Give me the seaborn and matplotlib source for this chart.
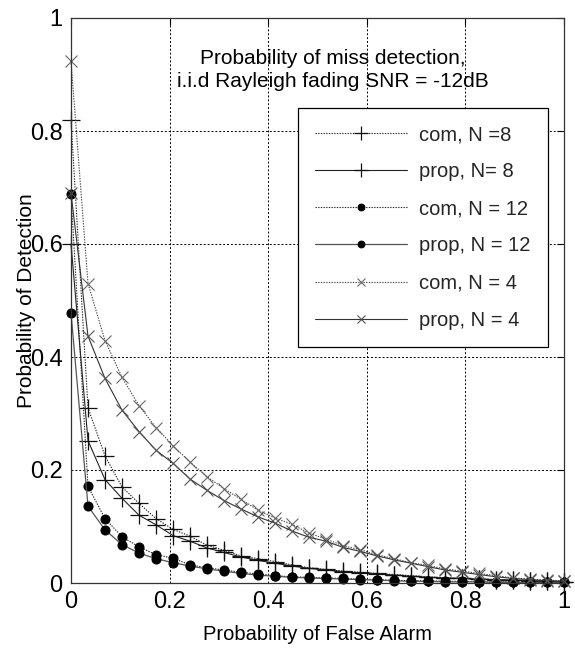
import numpy as np
import pandas as pd
import matplotlib
matplotlib.use("Agg")
import matplotlib.pyplot as plt
import seaborn as sns

# ---------------- data ----------------
pfa = [i / 29 for i in range(30)]

com_n8 = [0.82, 0.31, 0.225, 0.170, 0.141, 0.114, 0.095, 0.083, 0.067, 0.058,
          0.048, 0.043, 0.038, 0.032, 0.027, 0.024, 0.021, 0.019, 0.017, 0.015,
          0.013, 0.011, 0.009, 0.008, 0.007, 0.006, 0.005, 0.004, 0.003, 0.002]
prop_n8 = [0.60, 0.252, 0.183, 0.150, 0.120, 0.103, 0.084, 0.074, 0.062, 0.054,
           0.046, 0.040, 0.035, 0.030, 0.026, 0.023, 0.020, 0.018, 0.016, 0.014,
           0.012, 0.010, 0.009, 0.008, 0.007, 0.006, 0.005, 0.004, 0.003, 0.002]
com_n12 = [0.688, 0.171, 0.114, 0.082, 0.064, 0.050, 0.044, 0.032, 0.027, 0.023,
           0.019, 0.016, 0.013, 0.011, 0.010, 0.009, 0.008, 0.007, 0.006, 0.005,
           0.004, 0.004, 0.003, 0.003, 0.002, 0.002, 0.002, 0.001, 0.001, 0.001]
prop_n12 = [0.478, 0.136, 0.094, 0.068, 0.053, 0.043, 0.036, 0.030, 0.025, 0.021,
            0.017, 0.014, 0.012, 0.010, 0.009, 0.008, 0.007, 0.006, 0.005, 0.004,
            0.003, 0.003, 0.002, 0.002, 0.002, 0.001, 0.001, 0.001, 0.001, 0.001]
com_n4 = [0.924, 0.530, 0.429, 0.364, 0.314, 0.275, 0.243, 0.214, 0.188, 0.167,
          0.148, 0.129, 0.115, 0.104, 0.088, 0.078, 0.066, 0.059, 0.050, 0.043,
          0.036, 0.031, 0.025, 0.021, 0.017, 0.013, 0.009, 0.007, 0.005, 0.004]
prop_n4 = [0.690, 0.437, 0.362, 0.306, 0.268, 0.235, 0.212, 0.184, 0.164, 0.146,
           0.131, 0.117, 0.106, 0.092, 0.081, 0.074, 0.063, 0.056, 0.048, 0.041,
           0.035, 0.029, 0.023, 0.019, 0.015, 0.011, 0.008, 0.006, 0.004, 0.003]

labels = ["com, N =8", "prop, N= 8", "com, N = 12", "prop, N = 12",
          "com, N = 4", "prop, N = 4"]
tick_vals = [0, 0.2, 0.4, 0.6, 0.8, 1]
tick_labels = ["0", "0.2", "0.4", "0.6", "0.8", "1"]

title_text = "Probability of miss detection,\ni.i.d Rayleigh fading SNR = -12dB"
xlabel = "Probability of False Alarm"
ylabel = "Probability of Detection"

# ---------------- style ----------------
sns.set_theme(style="white")
plt.rcParams["font.family"] = ["Liberation Sans", "DejaVu Sans"]

fig = plt.figure(figsize=(5.75, 6.49), dpi=100)
ax = fig.add_axes([71 / 575, 66 / 649, 493 / 575, 565 / 649])

series = [com_n8, prop_n8, com_n12, prop_n12, com_n4, prop_n4]
dotted = (0, (1.2, 1.2))
styles = [
    dict(marker="+", markersize=13, linestyle=dotted, color="#222222",
         linewidth=0.8, mec="#111111", mew=0.9),
    dict(marker="+", markersize=13, linestyle="-", color="#222222",
         linewidth=0.8, mec="#111111", mew=0.9),
    dict(marker="o", markersize=6.5, linestyle=dotted, color="#222222",
         linewidth=0.8, mfc="black", mec="black"),
    dict(marker="o", markersize=6.5, linestyle="-", color="#555555",
         linewidth=0.9, mfc="black", mec="black"),
    dict(marker="x", markersize=8, linestyle=dotted, color="#444444",
         linewidth=0.8, mec="#666666", mew=0.8),
    dict(marker="x", markersize=8, linestyle="-", color="#333333",
         linewidth=0.8, mec="#555555", mew=0.8),
]

for vals, lab, st in zip(series, labels, styles):
    sns.lineplot(x=pfa, y=vals, ax=ax, label=lab, sort=False, clip_on=False,
                 **st)

ax.set_xlim(0, 1)
ax.set_ylim(0, 1)
ax.set_xticks(tick_vals)
ax.set_xticklabels(tick_labels)
ax.set_yticks(tick_vals)
ax.set_yticklabels(tick_labels)
ax.tick_params(axis="both", direction="in", length=5, width=0.8,
               labelsize=17, colors="black", pad=6,
               top=True, right=True)

ax.grid(True, linestyle=(0, (2, 2)), color="black", linewidth=0.7)
for s in ax.spines.values():
    s.set_visible(True)
    s.set_color("#333333")
    s.set_linewidth(0.9)

ax.set_xlabel(xlabel, fontsize=14.5, color="black")
ax.set_ylabel(ylabel, fontsize=15, color="black")
ax.xaxis.set_label_coords(0.5, -0.074)
ax.yaxis.set_label_coords(-0.071, 0.5)

ax.text(0.531, 0.908, title_text, transform=ax.transAxes, ha="center",
        va="center", fontsize=15, color="black", linespacing=1.25)

leg = ax.legend(loc="upper right", bbox_to_anchor=(0.9675, 0.8407),
                borderaxespad=0, fontsize=14.5, frameon=True, fancybox=False,
                handlelength=4.6, labelspacing=0.9, markerscale=0.75,
                borderpad=0.85, handletextpad=0.6)
leg.get_frame().set_edgecolor("black")
leg.get_frame().set_linewidth(0.9)
leg.get_frame().set_facecolor("white")
leg.get_frame().set_alpha(1)

fig.savefig("out.png", dpi=100, facecolor="white")
